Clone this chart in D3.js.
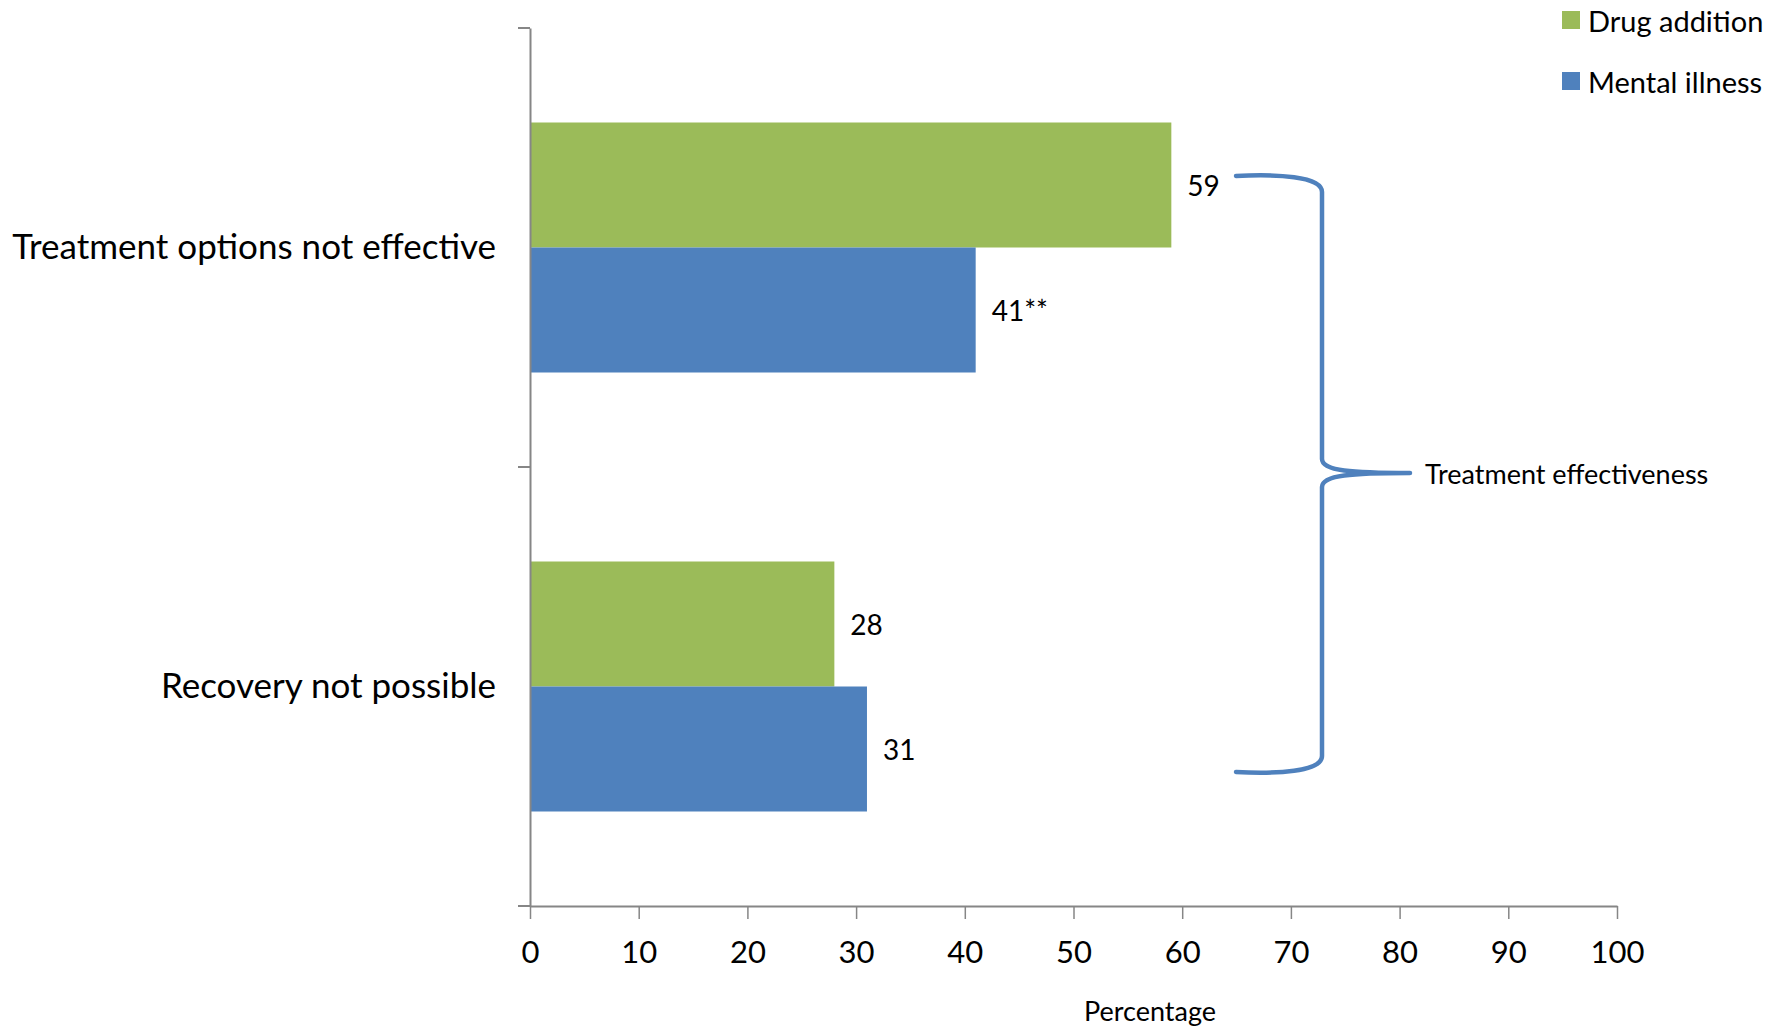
<!DOCTYPE html>
<html><head><meta charset="utf-8">
<script src="https://cdn.jsdelivr.net/npm/d3@7"></script>
<style>body{margin:0;background:#fff}svg{display:block}text{font-family:Lato,"Open Sans",sans-serif;fill:#000}</style>
</head><body>
<svg id="c" width="1783" height="1027"></svg>
<script>
const categories = ["Treatment options not effective", "Recovery not possible"];
const series = ["Drug addition", "Mental illness"];
const drugValues = [59, 28];
const mentalValues = [41, 31];
const valueLabels = [["59", "28"], ["41**", "31"]];
const xTicks = [0,10,20,30,40,50,60,70,80,90,100];
const colors = ["#9bbb59", "#4f81bd"];
const bracketLabel = "Treatment effectiveness";
const xTitle = "Percentage";

(function(){
const svg = d3.select("#c");
const x = d3.scaleLinear().domain([0,100]).range([530,1617]);
const y = d3.scaleBand().domain(categories).range([28,906]).padding(0);
const ys = d3.scaleBand().domain(series).range([0,y.bandwidth()]).paddingInner(0).paddingOuter(0.756);
const axisColor = "#868686";

const data = categories.map((c,i)=>({c, vals:[drugValues[i], mentalValues[i]]}));

// bars
const g = svg.append("g");
data.forEach((d,i)=>{
  series.forEach((s,j)=>{
    g.append("rect").attr("x", x(0)).attr("y", y(d.c)+ys(s))
     .attr("width", x(d.vals[j])-x(0)).attr("height", ys.bandwidth()).attr("fill", colors[j]);
    g.append("text").attr("x", x(d.vals[j])+16).attr("y", y(d.c)+ys(s)+ys.bandwidth()/2)
     .attr("dominant-baseline","central").attr("font-size",28).text(valueLabels[j][i]);
  });
});

// x axis
const xa = svg.append("g").attr("transform","translate(0,906)")
  .call(d3.axisBottom(x).tickValues(xTicks).tickSize(13).tickPadding(22).tickSizeOuter(0));
xa.select(".domain").attr("stroke",axisColor).attr("stroke-width",2);
xa.selectAll(".tick line").attr("stroke",axisColor).attr("stroke-width",1.5);
xa.selectAll(".tick text").attr("font-size",31).attr("font-family","Lato").attr("fill","#000");

// y axis
const ya = svg.append("g").attr("transform","translate(530,0)")
  .call(d3.axisLeft(y).tickSize(0).tickPadding(34));
ya.select(".domain").attr("stroke",axisColor).attr("stroke-width",2);
ya.selectAll(".tick text").attr("font-size",35).attr("font-family","Lato").attr("fill","#000");
const bounds = [y.range()[0], ...categories.map(c=>y(c)+y.bandwidth())];
svg.append("g").selectAll("line").data(bounds).join("line")
  .attr("x1",518).attr("x2",530).attr("y1",d=>d).attr("y2",d=>d)
  .attr("stroke",axisColor).attr("stroke-width",2);

// x title
svg.append("text").attr("x",1150).attr("y",1010).attr("text-anchor","middle")
  .attr("dominant-baseline","central").attr("font-size",27).text(xTitle);

// legend
series.forEach((s,j)=>{
  const ly = 20 + j*61;
  svg.append("rect").attr("x",1562).attr("y",ly-9).attr("width",18).attr("height",18).attr("fill",colors[j]);
  svg.append("text").attr("x",1588).attr("y",ly).attr("dominant-baseline","central")
    .attr("font-size",29).text(s);
});

// brace
const bx0 = 1236, bx1 = 1322, tipX = 1410;
const bTop = 176, bBot = 772, bMid = 473;
const path = d3.path();
path.moveTo(bx0, bTop);
path.bezierCurveTo(bx0+40, bTop-2, bx1, bTop, bx1, bTop+16);
path.lineTo(bx1, bMid-14);
path.bezierCurveTo(bx1, bMid-2, bx1+30, bMid, tipX, bMid);
path.moveTo(tipX, bMid);
path.bezierCurveTo(bx1+30, bMid, bx1, bMid+2, bx1, bMid+14);
path.lineTo(bx1, bBot-16);
path.bezierCurveTo(bx1, bBot, bx0+40, bBot+2, bx0, bBot);
svg.append("path").attr("d", path.toString()).attr("fill","none")
  .attr("stroke","#4f81bd").attr("stroke-width",4.5).attr("stroke-linecap","round");
svg.append("text").attr("x",1425).attr("y",bMid).attr("dominant-baseline","central")
  .attr("font-size",27).text(bracketLabel);
})();
</script>
</body></html>
